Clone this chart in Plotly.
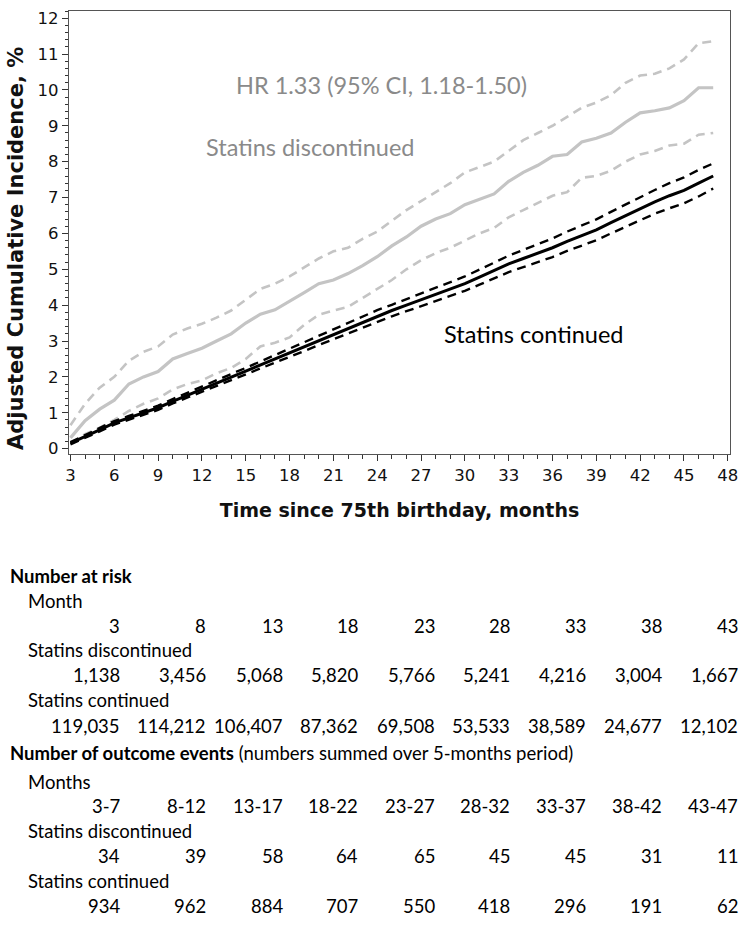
import plotly.graph_objects as go

# ---------------- data ----------------
months = list(range(3, 48))
disc_est = [0.30, 0.78, 1.10, 1.35, 1.80, 2.00, 2.15, 2.50, 2.65, 2.80, 3.00, 3.20, 3.50, 3.75, 3.87, 4.10,
            4.35, 4.60, 4.70, 4.88, 5.10, 5.35, 5.65, 5.90, 6.20, 6.40, 6.55, 6.80, 6.95, 7.10, 7.45,
            7.70, 7.90, 8.15, 8.20, 8.55, 8.65, 8.80, 9.10, 9.36, 9.42, 9.50, 9.70, 10.06, 10.06]
disc_up = [0.65, 1.25, 1.70, 2.00, 2.45, 2.70, 2.85, 3.18, 3.35, 3.48, 3.65, 3.85, 4.15, 4.45, 4.60, 4.80,
           5.05, 5.30, 5.50, 5.60, 5.85, 6.05, 6.35, 6.65, 6.90, 7.15, 7.40, 7.70, 7.85, 8.00, 8.30,
           8.60, 8.80, 9.00, 9.25, 9.50, 9.65, 9.85, 10.20, 10.40, 10.45, 10.60, 10.85, 11.30, 11.36]
disc_lo = [0.15, 0.40, 0.58, 0.80, 1.05, 1.25, 1.40, 1.65, 1.80, 1.90, 2.10, 2.25, 2.50, 2.85, 2.95, 3.10,
           3.45, 3.73, 3.85, 3.95, 4.20, 4.45, 4.70, 5.00, 5.25, 5.45, 5.60, 5.80, 6.00, 6.15, 6.45,
           6.65, 6.85, 7.05, 7.15, 7.55, 7.60, 7.75, 8.00, 8.20, 8.30, 8.45, 8.50, 8.75, 8.80]
cont_est = [0.15, 0.33, 0.52, 0.72, 0.86, 1.00, 1.14, 1.32, 1.49, 1.66, 1.83, 2.00, 2.16, 2.33, 2.50, 2.66,
            2.84, 3.01, 3.18, 3.35, 3.52, 3.70, 3.85, 4.00, 4.15, 4.30, 4.45, 4.60, 4.78, 4.96, 5.15,
            5.30, 5.45, 5.60, 5.78, 5.95, 6.10, 6.30, 6.50, 6.70, 6.88, 7.05, 7.20, 7.40, 7.60]
cont_up = [0.18, 0.37, 0.56, 0.77, 0.91, 1.06, 1.20, 1.38, 1.56, 1.73, 1.91, 2.08, 2.25, 2.43, 2.60, 2.77,
           2.96, 3.13, 3.31, 3.49, 3.67, 3.86, 4.01, 4.17, 4.33, 4.49, 4.64, 4.80, 4.99, 5.18, 5.38,
           5.54, 5.70, 5.86, 6.05, 6.23, 6.39, 6.60, 6.81, 7.02, 7.21, 7.40, 7.56, 7.77, 7.95]
cont_lo = [0.12, 0.29, 0.48, 0.67, 0.81, 0.94, 1.08, 1.26, 1.42, 1.59, 1.75, 1.92, 2.07, 2.23, 2.40, 2.55,
           2.72, 2.89, 3.05, 3.21, 3.37, 3.54, 3.69, 3.83, 3.97, 4.11, 4.26, 4.40, 4.57, 4.74, 4.92,
           5.06, 5.20, 5.34, 5.51, 5.67, 5.81, 6.00, 6.19, 6.38, 6.55, 6.70, 6.84, 7.03, 7.25]

risk_months = ["3", "8", "13", "18", "23", "28", "33", "38", "43"]
risk_disc = ["1,138", "3,456", "5,068", "5,820", "5,766", "5,241", "4,216", "3,004", "1,667"]
risk_cont = ["119,035", "114,212", "106,407", "87,362", "69,508", "53,533", "38,589", "24,677", "12,102"]
event_months = ["3-7", "8-12", "13-17", "18-22", "23-27", "28-32", "33-37", "38-42", "43-47"]
event_disc = ["34", "39", "58", "64", "65", "45", "45", "31", "11"]
event_cont = ["934", "962", "884", "707", "550", "418", "296", "191", "62"]

# ---------------- layout geometry (page px; body margin removed below) ----------------
W, H = 748, 926
PL, PR, PT, PB = 69, 730, 9, 454      # plot frame

fig = go.Figure()
GRAY = "#c4c4c4"
dash_style = "9px,6px"
for y, col, dash, wd in [
    (disc_up, GRAY, dash_style, 2.6), (disc_lo, GRAY, dash_style, 2.6),
    (disc_est, GRAY, "solid", 3.2),
    (cont_up, "#000000", dash_style, 2.4), (cont_lo, "#000000", dash_style, 2.4),
    (cont_est, "#000000", "solid", 3.0),
]:
    fig.add_trace(go.Scatter(x=months, y=y, mode="lines",
                             line=dict(color=col, dash=dash, width=wd),
                             showlegend=False, hoverinfo="skip"))

TICKFONT = dict(family="DejaVu Sans", size=16.5, color="#111")
fig.update_layout(
    width=W, height=H,
    margin=dict(l=PL, r=W - PR, t=PT, b=H - PB),
    plot_bgcolor="white", paper_bgcolor="white",
    showlegend=False,
    xaxis=dict(range=[2.9, 48.15], tickmode="array", tickvals=list(range(3, 49, 3)),
               ticks="outside", ticklen=6, tickcolor="#333", tickfont=TICKFONT,
               minor=dict(dtick=1, tick0=3, ticks="outside", ticklen=4, tickcolor="#333"),
               showline=True, linecolor="#555", linewidth=1.2, mirror=True,
               showgrid=False, zeroline=False,
               title=dict(text="<b>Time since 75th birthday, months</b>",
                          font=dict(family="DejaVu Sans", size=19, color="#111"), standoff=19)),
    yaxis=dict(range=[-0.15, 12.2], tickmode="array", tickvals=list(range(0, 13)),
               ticks="outside", ticklen=6, tickcolor="#333", tickfont=TICKFONT,
               minor=dict(dtick=0.2, tick0=0, ticks="outside", ticklen=3, tickcolor="#333"),
               showline=True, linecolor="#555", linewidth=1.2, mirror=True,
               showgrid=False, zeroline=False),
)

pw, ph = PR - PL, PB - PT
def px(xs):
    return (xs - PL) / pw
def py(ys):
    return (PB - ys) / ph

# y-axis title (rotated text, slightly below plot centre like the original)
fig.add_annotation(x=px(16), y=py(248), xref="paper", yref="paper",
                   text="<b>Adjusted Cumulative Incidence, %</b>", textangle=-90,
                   xanchor="center", yanchor="middle", showarrow=False,
                   font=dict(family="DejaVu Sans", size=21, color="#111"))

TXT = "Lato"
fig.add_annotation(x=24.3, y=10.15, xref="x", yref="y", text="HR 1.33 (95% CI, 1.18-1.50)",
                   showarrow=False, font=dict(family=TXT, size=23.5, color="#8a8a8a"))
fig.add_annotation(x=19.4, y=8.4, xref="x", yref="y", text="Statins discontinued",
                   showarrow=False, font=dict(family=TXT, size=23.5, color="#8a8a8a"))
fig.add_annotation(x=34.75, y=3.19, xref="x", yref="y", text="Statins continued",
                   showarrow=False, font=dict(family=TXT, size=23.5, color="#000"))

# ---------------- table below ----------------
TFS = 18.5
col_right = [122, 208, 285, 360, 437, 512, 588, 664, 740]

def label(text, xs, ys):
    fig.add_annotation(x=px(xs), y=py(ys), xref="paper", yref="paper", text=text,
                       xanchor="left", yanchor="middle", showarrow=False,
                       font=dict(family=TXT, size=TFS, color="#000"))

def row(values, ys):
    for xr, v in zip(col_right, values):
        fig.add_annotation(x=px(xr), y=py(ys), xref="paper", yref="paper", text=v,
                           xanchor="right", yanchor="middle", showarrow=False,
                           font=dict(family=TXT, size=TFS, color="#000"))

label("<b>Number at risk</b>", 8, 577)
label("Month", 26, 602)
row(risk_months, 627)
label("Statins discontinued", 26, 651)
row(risk_disc, 676)
label("Statins continued", 26, 701)
row(risk_cont, 727)
label("<b>Number of outcome events</b> (numbers summed over 5-months period)", 8, 754)
label("Months", 26, 783)
row(event_months, 808)
label("Statins discontinued", 26, 833)
row(event_disc, 858)
label("Statins continued", 26, 883)
row(event_cont, 908)

fig.write_html("out.html", config={"displayModeBar": False},
               post_script="document.body.style.margin='0';")
